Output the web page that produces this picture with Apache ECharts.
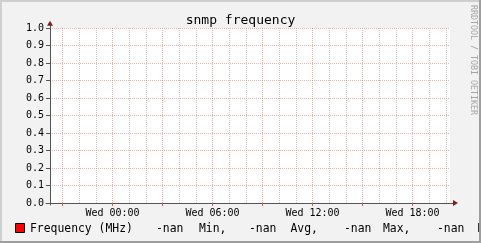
<!DOCTYPE html>
<html>
<head>
<meta charset="utf-8">
<script src="https://cdn.jsdelivr.net/npm/echarts@6/dist/echarts.min.js"></script>
<style>
html,body{margin:0;padding:0;background:#f2f2f2;}
#c{width:481px;height:243px;}
</style>
</head>
<body>
<div id="c"></div>
<script>
// ---- data ----
const chartTitle = 'snmp frequency';
const seriesName = 'Frequency (MHz)';
const watermark = 'RRDTOOL / TOBI OETIKER';
// time axis in hours relative to Wed 00:00
const timeStart = -3.75;
const timeEnd = 20.25;
const frequencyTimes = [];
const frequencyValues = []; // no data (-nan)
const majorHours = [-3, 0, 3, 6, 9, 12, 15, 18];
const minorHours = [-2, -1, 1, 2, 4, 5, 7, 8, 10, 11, 13, 14, 16, 17, 19, 20];
const labelHours = [0, 6, 12, 18];
const xTickLabels = ['Wed 00:00', 'Wed 06:00', 'Wed 12:00', 'Wed 18:00'];
const yMin = 0, yMax = 1, yStep = 0.1;
const statTexts = ['-nan', 'Min,', '-nan', 'Avg,', '-nan', 'Max,', '-nan', 'Last'];

// ---- styles ----
const MONO = "'DejaVu Sans Mono', monospace";
const AXIS = '#555555';
const ARROW = '#801f1f';
const MGRID = 'rgba(222,79,79,0.45)';
const GRID = 'rgba(143,143,143,0.45)';
const statX = [156, 199, 249, 290.5, 344, 383, 437, 477];

const chart = echarts.init(document.getElementById('c'), null, {renderer: 'canvas'});

const option = {
  backgroundColor: '#f2f2f2',
  animation: false,
  title: {
    text: chartTitle, left: 'center', top: 14, padding: 0,
    textStyle: {fontFamily: MONO, fontSize: 13, fontWeight: 'normal', color: '#000'}
  },
  legend: {
    left: 15, top: 223, padding: 0, itemWidth: 9, itemHeight: 9,
    icon: 'rect',
    data: [{name: seriesName, itemStyle: {color: '#ff0000', borderColor: '#000', borderWidth: 1}}],
    formatter: function () { return ''; },
    textStyle: {fontFamily: MONO, fontSize: 11.4, color: '#000'}
  },
  grid: [
    {left: 50, right: 31, top: 28, bottom: 40, show: true, backgroundColor: '#ffffff', borderWidth: 0},
    {left: 46, right: 27, top: 28, bottom: 40, show: false},
    {left: 50, right: 31, top: 25.5, bottom: 38, show: false}
  ],
  xAxis: [
    {
      gridIndex: 0, type: 'value', min: timeStart, max: timeEnd, position: 'bottom',
      axisLine: {show: true, onZero: false, symbol: ['none', 'triangle'], symbolSize: [6, 5], symbolOffset: [0, 5.5],
        lineStyle: {color: ARROW, opacity: 0}},
      axisTick: {show: true, customValues: majorHours, length: 3, inside: false, lineStyle: {color: 'rgba(222,79,79,0.9)'}},
      axisLabel: {show: true, customValues: labelHours, margin: 5, fontFamily: MONO, fontSize: 10, color: '#000',
        formatter: function (v) { const i = labelHours.indexOf(v); return i >= 0 ? xTickLabels[i] : ''; }},
      splitLine: {show: true, lineStyle: {color: MGRID, type: [1, 1], width: 1}}
    },
    {
      gridIndex: 0, type: 'value', min: timeStart, max: timeEnd, position: 'top',
      axisLine: {show: false, onZero: false},
      axisTick: {show: false, customValues: minorHours},
      axisLabel: {show: false},
      splitLine: {show: true, lineStyle: {color: GRID, type: [1, 1], width: 1}}
    },
    {
      gridIndex: 1, type: 'value', min: 0, max: 1, position: 'bottom',
      axisLine: {show: true, onZero: false, lineStyle: {color: AXIS, width: 1}},
      axisTick: {show: false}, axisLabel: {show: false}, splitLine: {show: false}
    },
    {
      gridIndex: 2, type: 'value', min: 0, max: 1, show: false, axisLine: {onZero: false}
    }
  ],
  yAxis: [
    {
      gridIndex: 0, type: 'value', min: yMin, max: yMax, interval: yStep, position: 'left',
      axisLine: {show: true, onZero: false, symbol: ['none', 'triangle'], symbolSize: [6, 5], symbolOffset: [0, 4.8],
        lineStyle: {color: ARROW, opacity: 0}},
      axisTick: {show: true, length: 4, inside: false, lineStyle: {color: AXIS}},
      axisLabel: {margin: 6, fontFamily: MONO, fontSize: 10, color: '#000',
        formatter: function (v) { return v.toFixed(1); }},
      splitLine: {show: true, lineStyle: {color: MGRID, type: [1, 1], width: 1}}
    },
    {gridIndex: 1, type: 'value', show: false, axisLine: {onZero: false}},
    {
      gridIndex: 2, type: 'value', min: 0, max: 1, position: 'left',
      axisLine: {show: true, onZero: false, lineStyle: {color: AXIS, width: 1}},
      axisTick: {show: false}, axisLabel: {show: false}, splitLine: {show: false}
    }
  ],
  series: [{
    name: seriesName, type: 'line', xAxisIndex: 0, yAxisIndex: 0,
    color: '#ff0000', showSymbol: false,
    data: frequencyTimes.map((t, i) => [t, frequencyValues[i]])
  }],
  graphic: [
    {
      type: 'text', x: 30, y: 228.7, z: 10,
      style: {text: seriesName, font: '11.4px ' + MONO, fill: '#000', verticalAlign: 'middle', align: 'left'}
    },
    ...statTexts.map((s, i) => ({
      type: 'text', x: statX[i], y: 228.7, z: 10,
      style: {text: s, font: '11.4px ' + MONO, fill: '#000', verticalAlign: 'middle', align: 'left'}
    })),
    {
      type: 'text', x: 473, y: 5, rotation: -Math.PI / 2, z: 10,
      style: {text: watermark, font: '8.3px ' + MONO, fill: '#a5a5a5', verticalAlign: 'middle', align: 'left'}
    },
    {type: 'rect', z: 100, shape: {x: 0, y: 0, width: 481, height: 2}, style: {fill: '#cfcfcf'}},
    {type: 'rect', z: 100, shape: {x: 0, y: 0, width: 2, height: 243}, style: {fill: '#cfcfcf'}},
    {type: 'rect', z: 101, shape: {x: 0, y: 241, width: 481, height: 2}, style: {fill: '#9e9e9e'}},
    {type: 'rect', z: 101, shape: {x: 479, y: 0, width: 2, height: 243}, style: {fill: '#9e9e9e'}}
  ]
};
chart.setOption(option);
</script>
</body>
</html>
